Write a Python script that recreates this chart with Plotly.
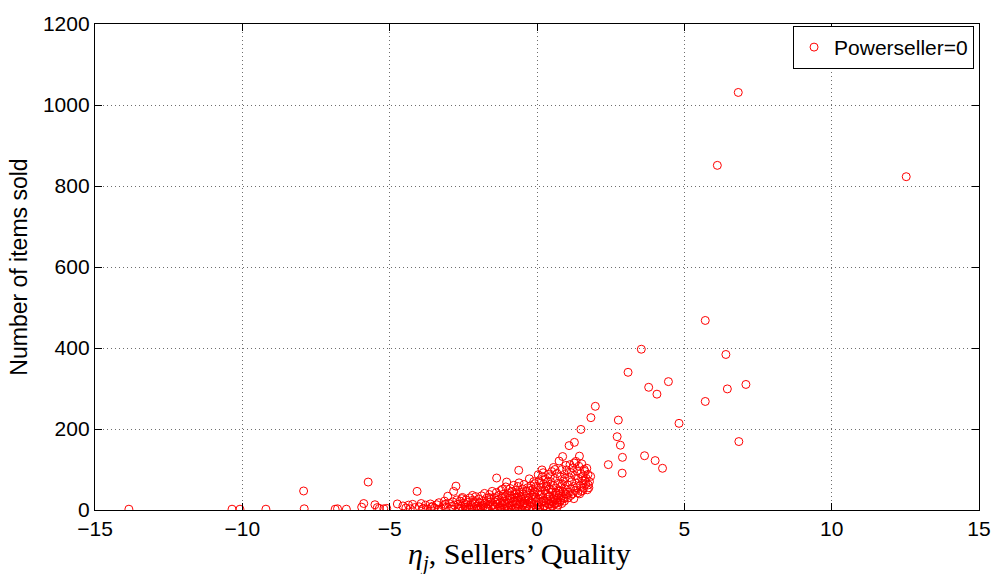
import plotly.graph_objects as go

# Sellers in the long low tail (quality below about -4.5)
tail_x = [-13.85, -10.35, -10.08, -9.20, -7.92, -7.90, -6.85, -6.77, -6.47, -5.95,
          -5.88, -5.73, -5.50, -5.42, -5.35, -5.20, -5.10, -4.74, -4.55]
tail_y = [2, 2, 2, 2, 47, 3, 2, 3, 2, 7,
          16, 69, 13, 6, 4, 3, 4, 15, 10]

# Low band, quality -4.5 .. -2.7
low_x = [-4.45, -4.36, -4.30, -4.22, -4.07, -4.00, -3.93, -3.85, -3.78, -3.70,
         -3.62, -3.55, -3.48, -3.40, -3.33, -3.25, -3.18, -3.14, -3.08, -3.03,
         -2.98, -2.92, -2.86, -2.83, -2.80, -2.75, -2.72, -4.15, -3.88, -3.58,
         -3.36, -3.12, -2.90]
low_y = [5, 12, 3, 14, 46, 8, 16, 4, 12, 2,
         15, 9, 5, 13, 18, 3, 11, 22, 7, 34,
         16, 2, 20, 46, 12, 59, 25, 6, 3, 7,
         2, 14, 9]

# Middle band, quality -2.7 .. -1.5
mid_x = [-2.68, -2.65, -2.61, -2.58, -2.55, -2.51, -2.48, -2.45, -2.41, -2.38,
         -2.35, -2.31, -2.28, -2.25, -2.21, -2.18, -2.15, -2.11, -2.08, -2.05,
         -2.01, -1.98, -1.95, -1.91, -1.88, -1.85, -1.81, -1.78, -1.75, -1.71,
         -1.68, -1.65, -1.61, -1.58, -1.55, -1.52, -2.62, -2.44, -2.27, -2.12,
         -1.96, -1.83, -1.70, -1.57, -2.53, -2.36, -2.19, -2.03, -1.90, -1.76,
         -1.63]
mid_y = [14, 4, 22, 9, 28, 2, 17, 11, 25, 6,
         19, 3, 30, 13, 8, 24, 2, 16, 33, 10,
         5, 27, 18, 3, 35, 12, 22, 41, 7, 29,
         15, 4, 38, 20, 10, 46, 2, 6, 3, 21,
         1, 8, 3, 26, 31, 1, 36, 2, 9, 17,
         31]

# Dense core, quality -1.5 .. 0
core_l_x = [-1.49, -1.47, -1.45, -1.43, -1.41, -1.38, -1.37, -1.35, -1.33, -1.31,
            -1.29, -1.27, -1.25, -1.23, -1.21, -1.19, -1.18, -1.16, -1.14, -1.12,
            -1.10, -1.08, -1.06, -1.04, -1.03, -1.01, -0.99, -0.97, -0.95, -0.93,
            -0.91, -0.89, -0.87, -0.85, -0.83, -0.81, -0.79, -0.77, -0.75, -0.73,
            -0.71, -0.69, -0.67, -0.65, -0.63, -0.62, -0.61, -0.60, -0.58, -0.56,
            -0.54, -0.52, -0.50, -0.48, -0.46, -0.44, -0.42, -0.40, -0.38, -0.36,
            -0.34, -0.32, -0.30, -0.28, -0.26, -0.25, -0.23, -0.21, -0.19, -0.17,
            -0.15, -0.13, -0.11, -0.09, -0.07, -0.05, -0.03, -0.02, -1.44, -1.36,
            -1.26, -1.17, -1.09, -1.00, -0.92, -0.84, -0.76, -0.68, -0.59, -0.51,
            -0.43, -0.35, -0.27, -0.18, -0.10, -0.04, -0.70, -0.55, -0.33, -0.14,
            -0.08, -0.24, -0.47, -0.88, -1.13, -0.64]
core_l_y = [12, 3, 31, 20, 7, 43, 79, 15, 2, 26,
            36, 9, 18, 48, 5, 29, 51, 13, 39, 22,
            3, 33, 57, 10, 69, 25, 42, 6, 17, 36,
            53, 1, 28, 46, 12, 21, 61, 38, 4, 31,
            49, 15, 24, 58, 8, 98, 67, 35, 44, 19,
            2, 27, 52, 11, 40, 63, 23, 6, 33, 47,
            16, 55, 29, 3, 77, 41, 20, 60, 9, 36,
            50, 26, 70, 13, 44, 31, 58, 5, 8, 24,
            4, 34, 16, 7, 30, 2, 22, 40, 13, 1,
            18, 8, 25, 17, 38, 21, 5, 32, 11, 3,
            65, 48, 14, 9, 2, 30]

# Dense core, quality 0 .. 1
core_r_x = [0.01, 0.03, 0.05, 0.07, 0.09, 0.11, 0.13, 0.15, 0.17, 0.18,
            0.20, 0.22, 0.24, 0.26, 0.28, 0.30, 0.32, 0.34, 0.36, 0.38,
            0.40, 0.42, 0.44, 0.46, 0.48, 0.50, 0.52, 0.54, 0.56, 0.58,
            0.60, 0.62, 0.64, 0.66, 0.68, 0.70, 0.72, 0.74, 0.75, 0.77,
            0.79, 0.81, 0.83, 0.85, 0.87, 0.88, 0.90, 0.92, 0.94, 0.96,
            0.98, 1.00, 0.02, 0.06, 0.10, 0.14, 0.19, 0.23, 0.27, 0.31,
            0.35, 0.39, 0.43, 0.47, 0.51, 0.55, 0.59, 0.63, 0.67, 0.71,
            0.76, 0.80, 0.84, 0.89, 0.93, 0.97, 0.04, 0.12, 0.21, 0.29,
            0.37, 0.45, 0.53, 0.61, 0.69, 0.78, 0.86, 0.95]
core_r_y = [12, 45, 28, 72, 5, 37, 56, 20, 99, 83,
            31, 64, 9, 48, 76, 18, 40, 60, 26, 88,
            14, 52, 35, 70, 22, 95, 44, 61, 105, 30,
            78, 16, 54, 38, 90, 25, 66, 47, 121, 20,
            82, 58, 34, 100, 132, 45, 72, 28, 88, 52,
            110, 38, 2, 19, 8, 40, 3, 24, 11, 58,
            6, 33, 15, 50, 10, 28, 14, 42, 18, 12,
            36, 24, 16, 30, 22, 40, 87, 66, 92, 4,
            70, 82, 20, 100, 8, 48, 64, 78]

# Upper edge of the cloud, quality 1 .. 2
upper_x = [1.01, 1.04, 1.07, 1.09, 1.10, 1.12, 1.14, 1.16, 1.18, 1.20,
           1.22, 1.24, 1.26, 1.27, 1.28, 1.30, 1.32, 1.34, 1.36, 1.38,
           1.40, 1.42, 1.44, 1.46, 1.48, 1.49, 1.50, 1.52, 1.54, 1.56,
           1.58, 1.60, 1.63, 1.65, 1.67, 1.69, 1.71, 1.73, 1.76, 1.78,
           1.82, 1.83, 1.98, 1.06, 1.15, 1.25, 1.35, 1.45, 1.55, 1.62,
           1.74]
upper_y = [99, 62, 44, 159, 80, 112, 52, 92, 70, 40,
           104, 58, 116, 167, 85, 48, 120, 66, 96, 42,
           78, 108, 133, 60, 90, 199, 46, 114, 72, 84,
           54, 100, 95, 64, 78, 103, 50, 88, 55, 70,
           83, 228, 256, 30, 36, 28, 55, 40, 48, 74,
           62]

# High-volume sellers, quality above 2
high_x = [2.42, 2.72, 2.76, 2.83, 2.89, 2.90, 3.09, 3.54, 3.65, 3.79,
          4.01, 4.07, 4.26, 4.46, 4.82, 5.71, 5.71, 6.12, 6.41, 6.46,
          6.83, 6.85, 7.09, 12.53]
high_y = [112, 181, 222, 160, 91, 130, 340, 397, 134, 303,
          122, 286, 103, 317, 214, 468, 268, 851, 384, 299,
          1031, 169, 310, 823]

x_ticks = [-15, -10, -5, 0, 5, 10, 15]
y_ticks = [0, 200, 400, 600, 800, 1000, 1200]

quality = tail_x + low_x + mid_x + core_l_x + core_r_x + upper_x + high_x
items = tail_y + low_y + mid_y + core_l_y + core_r_y + upper_y + high_y

fig = go.Figure()
fig.add_trace(go.Scatter(
    x=quality, y=items, mode="markers", name="Powerseller=0",
    marker=dict(symbol="circle-open", size=8, color="#ff0000",
                line=dict(width=1, color="#ff0000")),
))

sans = "Liberation Sans, Arial, sans-serif"
tick_font = dict(family=sans, size=21, color="black")
axis_common = dict(
    showline=True, linecolor="black", linewidth=1.3, mirror="ticks",
    ticks="inside", ticklen=7, tickcolor="black", tickwidth=1,
    showgrid=True, gridcolor="#6e6e6e", griddash="1px,3px", gridwidth=1,
    zeroline=False, tickfont=tick_font,
)

fig.update_layout(
    width=1003, height=574,
    margin=dict(l=95, r=18, t=12, b=64),
    paper_bgcolor="white", plot_bgcolor="white",
    showlegend=True,
    legend=dict(
        x=0.9944, y=0.996, xanchor="right", yanchor="top",
        bgcolor="white", bordercolor="black", borderwidth=1,
        font=dict(family=sans, size=21, color="black"),
        tracegroupgap=0,
    ),
    xaxis=dict(range=[-15, 15], tickvals=x_ticks, **axis_common),
    yaxis=dict(
        range=[0, 1200], tickvals=y_ticks,
        title=dict(text="Number of items sold",
                   font=dict(family=sans, size=23, color="black"),
                   standoff=8),
        **axis_common,
    ),
    annotations=[dict(
        text="<i>η</i><sub><i>j</i></sub>, Sellers’ Quality",
        xref="paper", yref="paper", x=0.4798, y=-0.094,
        xanchor="center", yanchor="middle", showarrow=False,
        font=dict(family="Liberation Serif, Times New Roman, serif",
                  size=30, color="black"),
    )],
)

fig.write_html("out.html")
